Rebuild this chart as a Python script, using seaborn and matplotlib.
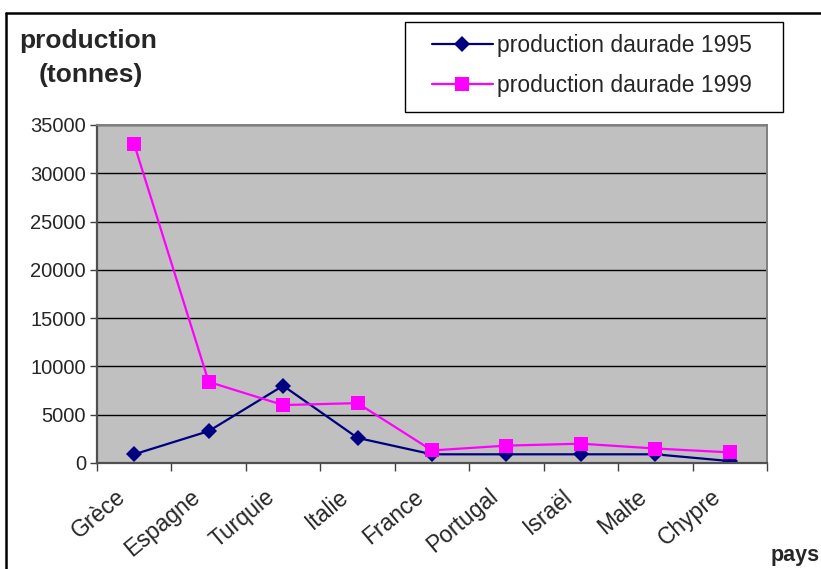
import matplotlib
matplotlib.use("Agg")
import matplotlib.pyplot as plt
import matplotlib.transforms as mtransforms
from matplotlib.lines import Line2D
from matplotlib.patches import Rectangle
import numpy as np
import pandas as pd
import seaborn as sns

# Production de daurade par pays (tonnes)
pays = ["Grèce", "Espagne", "Turquie", "Italie", "France",
        "Portugal", "Israël", "Malte", "Chypre"]
prod_1995 = [900, 3300, 8000, 2600, 900, 900, 900, 900, 200]
prod_1999 = [33000, 8400, 6000, 6200, 1300, 1800, 2000, 1500, 1100]
serie_1995 = "production daurade 1995"
serie_1999 = "production daurade 1999"
y_ticks = [0, 5000, 10000, 15000, 20000, 25000, 30000, 35000]

sns.set_theme(style="white")
plt.rcParams["font.family"] = ["Liberation Sans", "DejaVu Sans"]

pos = np.arange(len(pays))
df = pd.concat([
    pd.DataFrame({"pos": pos, "pays": pays, "production": prod_1995, "serie": serie_1995}),
    pd.DataFrame({"pos": pos, "pays": pays, "production": prod_1999, "serie": serie_1999}),
])

W, H = 821, 569
fig = plt.figure(figsize=(W / 100, H / 100), dpi=100)
ax = fig.add_axes([97 / W, 1 - 463 / H, 670 / W, 338 / H])
ax.set_facecolor("#C0C0C0")

palette = {serie_1995: "#000080", serie_1999: "#FF00FF"}
markers = {serie_1995: "D", serie_1999: "s"}
sns.lineplot(data=df, x="pos", y="production", hue="serie", style="serie",
             palette=palette, markers=markers, dashes=False, ax=ax,
             linewidth=1.6, markersize=10, markeredgewidth=0, legend=False)
# diamonds a bit smaller than squares
for line in ax.lines:
    if line.get_marker() == "D":
        line.set_markersize(8.5)

ax.set_xlim(-0.5, len(pays) - 0.5)
ax.set_ylim(0, 35000)
ax.set_yticks(y_ticks)
ax.set_yticklabels([str(v) for v in y_ticks], fontsize=14.5)
ax.yaxis.grid(True, color="black", linewidth=1)
ax.xaxis.grid(False)

# tick marks between categories
ax.set_xticks(np.arange(-0.5, len(pays), 1.0))
ax.set_xticklabels([])
ax.tick_params(axis="x", direction="out", length=6,
               width=1, color="#404040", bottom=True)
ax.tick_params(axis="y", direction="out", length=5, width=1,
               color="#404040", left=True, pad=3)

# slanted category names, right end just left of and below each category
label_tf = (mtransforms.blended_transform_factory(ax.transData, ax.transAxes)
            + mtransforms.ScaledTranslation(-0.19, -0.22, fig.dpi_scale_trans))
for p, name in zip(pos, pays):
    ax.text(p, 0, name, transform=label_tf, rotation=40, ha="right",
            va="top", rotation_mode="anchor", fontsize=16.5, clip_on=False)

ax.set_xlabel("")
ax.set_ylabel("")
for side in ["left", "bottom"]:
    ax.spines[side].set_color("#505050")
    ax.spines[side].set_linewidth(1.6)
for side in ["top", "right"]:
    ax.spines[side].set_color("#808080")
    ax.spines[side].set_linewidth(1.4)

# legend: box drawn separately, entries placed inside it
fig.add_artist(Rectangle((405 / W, 1 - 112 / H), 378 / W, 90 / H,
                         transform=fig.transFigure, facecolor="white",
                         edgecolor="black", linewidth=1.0))
handles = [
    Line2D([], [], color="#000080", marker="D", markersize=8.5, linewidth=1.6,
           markeredgewidth=0, label=serie_1995),
    Line2D([], [], color="#FF00FF", marker="s", markersize=10, linewidth=1.6,
           markeredgewidth=0, label=serie_1999),
]
fig.legend(handles=handles, loc="upper left",
           bbox_to_anchor=(432 / W, 1 - 34 / H),
           frameon=False, fontsize=16.5, handlelength=2.65,
           handletextpad=0.17, borderaxespad=0, borderpad=0,
           labelspacing=0.76)

# axis titles
fig.text(88 / W, 1 - 41 / H, "production", ha="center", va="center",
         fontsize=19, fontweight="bold")
fig.text(91 / W, 1 - 75 / H, "(tonnes)", ha="center", va="center",
         fontsize=19, fontweight="bold")
fig.text(771 / W, 1 - 555 / H, "pays", ha="left", va="center",
         fontsize=15.5, fontweight="bold")

# chart area frame
fig.add_artist(Line2D([6 / W, 6 / W], [0, 1 - 13 / H],
                      transform=fig.transFigure, color="black", linewidth=1.8))
fig.add_artist(Line2D([6 / W, 1], [1 - 13 / H, 1 - 13 / H],
                      transform=fig.transFigure, color="black", linewidth=1.8))

fig.savefig("out.png", dpi=100)
